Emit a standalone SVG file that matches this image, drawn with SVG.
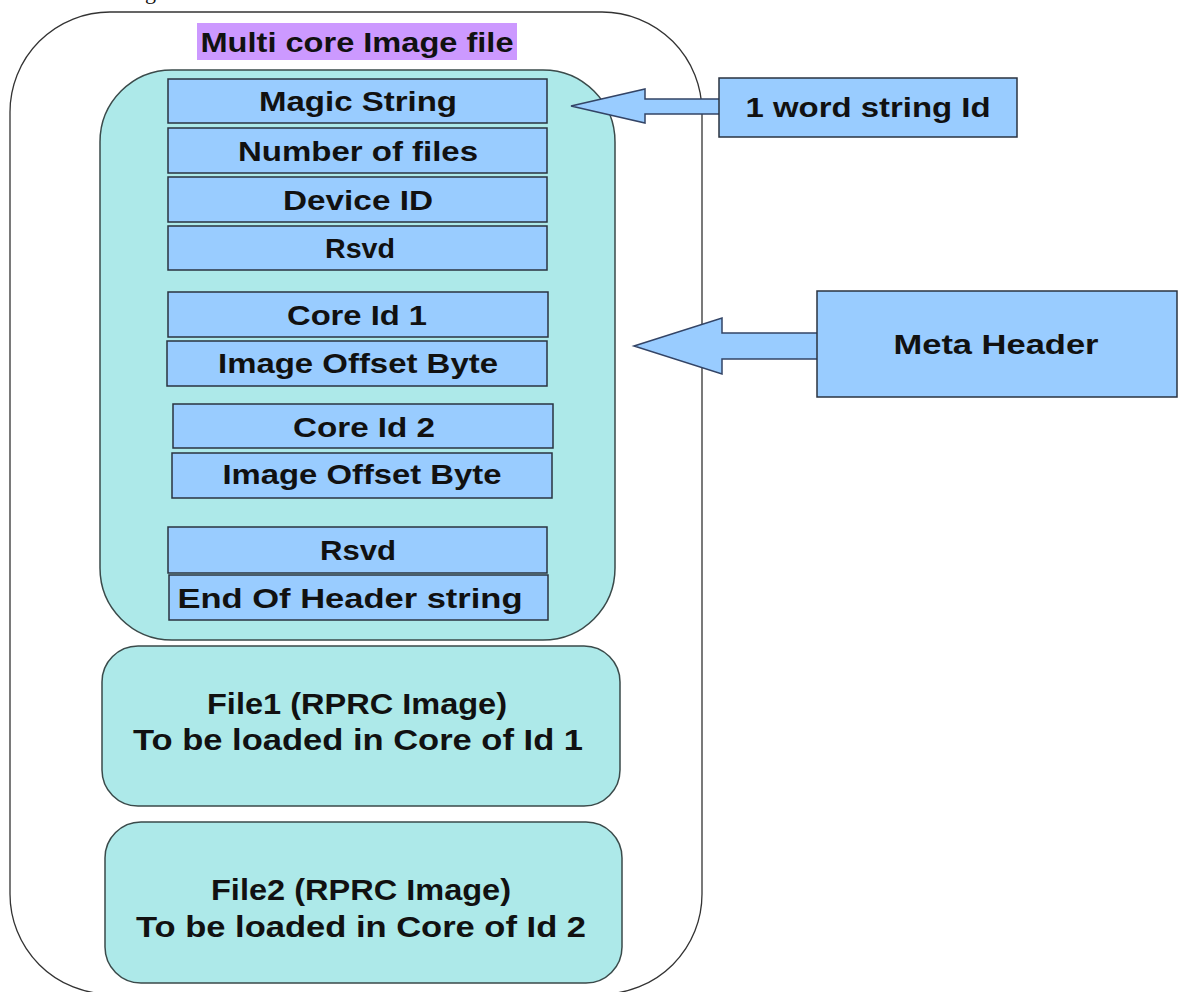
<svg xmlns="http://www.w3.org/2000/svg" width="1182" height="992" viewBox="0 0 1182 992">
<style>
.txt{font-family:"Liberation Sans",Arial,sans-serif;font-weight:bold;fill:#111;text-anchor:middle}
.field{fill:#99ccff;stroke:#2a3340;stroke-width:1.5}
.teal{fill:#ade9e9;stroke:#3a4a4a;stroke-width:1.5}
.arrow{fill:#99ccff;stroke:#334466;stroke-width:1.5;stroke-linejoin:miter}
</style>
<rect width="1182" height="992" fill="#ffffff"/>
<text x="145" y="-1" font-family="Liberation Serif,serif" font-size="22" fill="#111">g</text>
<g id="outer">
<rect x="10" y="12" width="692" height="982" rx="100" ry="100" fill="none" stroke="#333" stroke-width="1.3"/>
<rect x="197" y="23" width="320" height="37" fill="#cc99ff"/>
<text class="txt" x="357" y="52" font-size="28" textLength="313" lengthAdjust="spacingAndGlyphs">Multi core Image file</text>
</g>
<g id="meta-header-box">
<rect class="teal" x="100" y="70" width="515" height="570" rx="72" ry="72"/>
</g>
<g id="magic-string"><rect class="field" x="168" y="79" width="379" height="44"/><text class="txt" x="358" y="111" font-size="28" textLength="198" lengthAdjust="spacingAndGlyphs">Magic String</text></g>
<g id="number-of-files"><rect class="field" x="168" y="128" width="379" height="45"/><text class="txt" x="358" y="161" font-size="28" textLength="240" lengthAdjust="spacingAndGlyphs">Number of files</text></g>
<g id="device-id"><rect class="field" x="168" y="177" width="379" height="45"/><text class="txt" x="358" y="210" font-size="28" textLength="150" lengthAdjust="spacingAndGlyphs">Device ID</text></g>
<g id="rsvd-1"><rect class="field" x="168" y="226" width="379" height="44"/><text class="txt" x="360" y="258" font-size="28" textLength="70" lengthAdjust="spacingAndGlyphs">Rsvd</text></g>
<g id="core-id-1"><rect class="field" x="168" y="292" width="380" height="45"/><text class="txt" x="357" y="325" font-size="28" textLength="140" lengthAdjust="spacingAndGlyphs">Core Id 1</text></g>
<g id="image-offset-1"><rect class="field" x="167" y="341" width="380" height="45"/><text class="txt" x="358" y="373" font-size="28" textLength="280" lengthAdjust="spacingAndGlyphs">Image Offset Byte</text></g>
<g id="core-id-2"><rect class="field" x="173" y="404" width="380" height="44"/><text class="txt" x="364" y="437" font-size="28" textLength="142" lengthAdjust="spacingAndGlyphs">Core Id 2</text></g>
<g id="image-offset-2"><rect class="field" x="172" y="453" width="380" height="45"/><text class="txt" x="362" y="484" font-size="28" textLength="279" lengthAdjust="spacingAndGlyphs">Image Offset Byte</text></g>
<g id="rsvd-2"><rect class="field" x="168" y="527" width="379" height="46"/><text class="txt" x="358" y="560" font-size="28" textLength="76" lengthAdjust="spacingAndGlyphs">Rsvd</text></g>
<g id="end-of-header"><rect class="field" x="169" y="575" width="379" height="45"/><text class="txt" x="350" y="608" font-size="28" textLength="345" lengthAdjust="spacingAndGlyphs">End Of Header string</text></g>
<g id="file1">
<rect class="teal" x="102" y="646" width="518" height="160" rx="36" ry="36"/>
<text class="txt" x="357" y="714" font-size="29" textLength="300" lengthAdjust="spacingAndGlyphs">File1 (RPRC Image)</text>
<text class="txt" x="358" y="750" font-size="29" textLength="450" lengthAdjust="spacingAndGlyphs">To be loaded in Core of Id 1</text>
</g>
<g id="file2">
<rect class="teal" x="105" y="822" width="517" height="161" rx="36" ry="36"/>
<text class="txt" x="361" y="900" font-size="29" textLength="300" lengthAdjust="spacingAndGlyphs">File2 (RPRC Image)</text>
<text class="txt" x="361" y="937" font-size="29" textLength="450" lengthAdjust="spacingAndGlyphs">To be loaded in Core of Id 2</text>
</g>
<g id="connectors">
<polygon class="arrow" points="571,106 645,89 645,99 720,99 720,114 645,114 645,123"/>
<polygon class="arrow" points="634,346 722,318 722,333 818,333 818,359 722,359 722,374"/>
</g>
<g id="word-string-id">
<rect class="field" x="719" y="78" width="298" height="59"/>
<text class="txt" x="868" y="117" font-size="28" textLength="245" lengthAdjust="spacingAndGlyphs">1 word string Id</text>
</g>
<g id="meta-header">
<rect class="field" x="817" y="291" width="360" height="106"/>
<text class="txt" x="996" y="354" font-size="28" textLength="205" lengthAdjust="spacingAndGlyphs">Meta Header</text>
</g>
</svg>
